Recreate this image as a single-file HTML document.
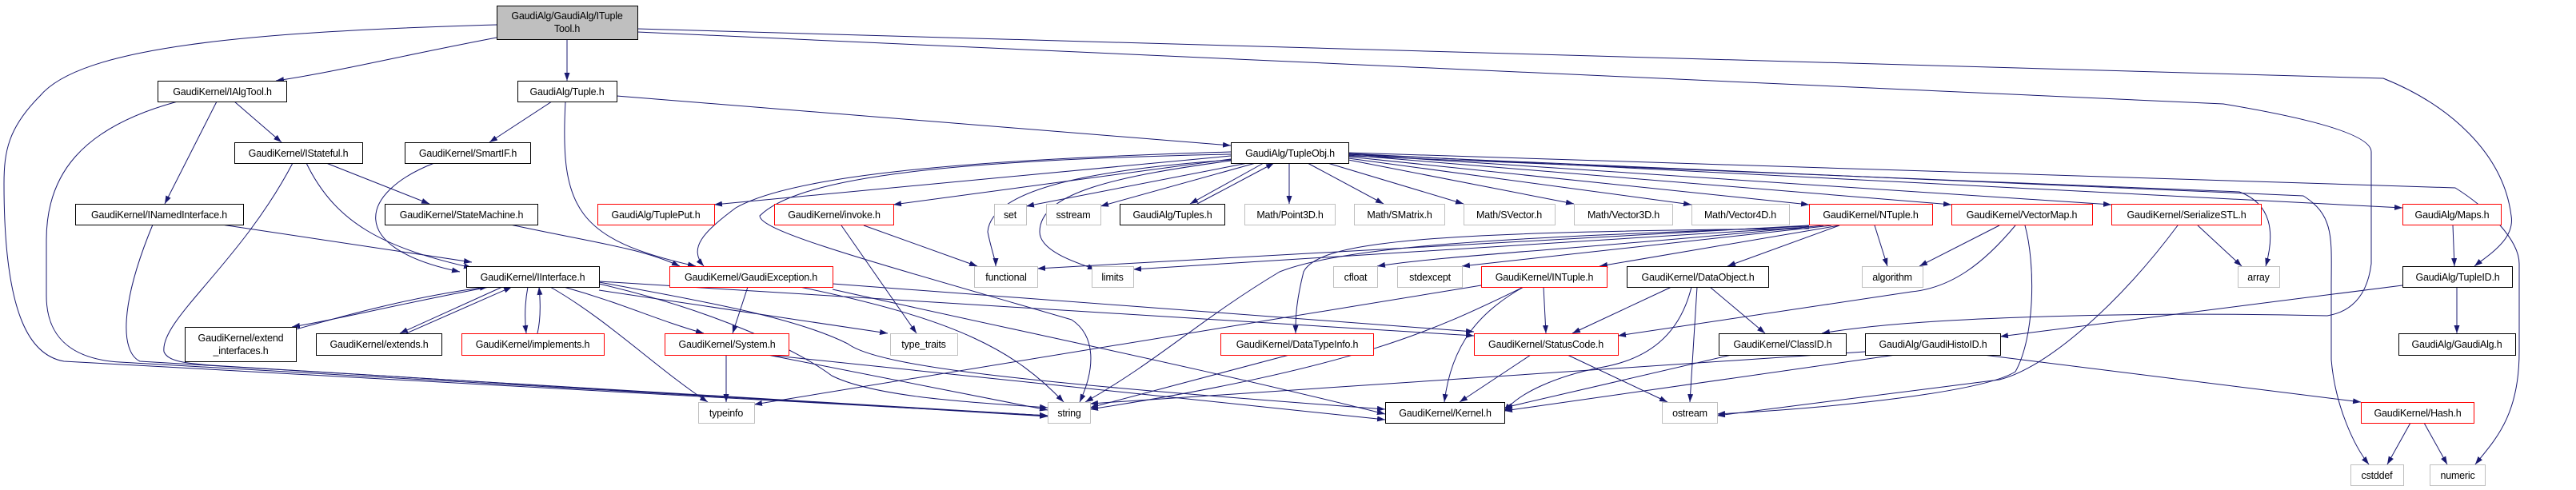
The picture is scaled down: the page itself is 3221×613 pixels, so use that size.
<!DOCTYPE html>
<html><head><meta charset="utf-8"><style>
html,body{margin:0;padding:0;background:#fff;}
svg{display:block;}
text{font-family:"Liberation Sans",sans-serif;font-size:12.5px;letter-spacing:-0.2px;fill:#000;text-anchor:middle;}
.e{fill:none;stroke:#191970;stroke-width:1;marker-end:url(#a);}
.k{fill:#fff;stroke:#000;stroke-width:1;}
.r{fill:#fff;stroke:#ff0000;stroke-width:1;}
.g{fill:#fff;stroke:#bfbfbf;stroke-width:1;}
</style></head><body>
<svg width="3221" height="613" viewBox="0 0 3221 613" xmlns="http://www.w3.org/2000/svg">
<defs><marker id="a" markerUnits="userSpaceOnUse" markerWidth="11" markerHeight="8" refX="10" refY="3.5" orient="auto"><path d="M0,0 L10,3.5 L0,7 z" fill="#191970"/></marker></defs>
<g>
<path class="e" d="M621,47 C500,70 420,90 345,101"/>
<path class="e" d="M709,49 L709,101"/>
<path class="e" d="M621,31 C300,40 100,60 50,120 C10,160 5,190 5,230 C5,400 40,445 80,452 L1310,520"/>
<path class="e" d="M797,36 L2980,98 C3060,130 3130,190 3140,270 C3145,300 3110,320 3094,333"/>
<path class="e" d="M797,40 L2780,130 C2900,150 2965,170 2965,190 L2965,330 C2960,370 2940,390 2910,395 C2700,390 2400,395 2278,417"/>
<path class="e" d="M690,127 L612,178"/>
<path class="e" d="M771,120 L1539,182"/>
<path class="e" d="M707,127 C700,260 720,300 870,333"/>
<path class="e" d="M293,127 L352,178"/>
<path class="e" d="M271,127 L206,255"/>
<path class="e" d="M222,127 C100,160 58,220 58,300 L58,370 C58,430 100,450 150,453 L1310,520"/>
<path class="e" d="M383,204 C420,280 480,310 590,335"/>
<path class="e" d="M408,204 L537,255"/>
<path class="e" d="M366,204 C300,330 200,400 205,440 C210,452 230,455 280,458 L1310,521"/>
<path class="e" d="M543,204 C450,240 430,310 575,340"/>
<path class="e" d="M277,281 L590,328"/>
<path class="e" d="M191,281 C150,380 150,440 175,452 L1310,520"/>
<path class="e" d="M638,281 C750,305 800,310 850,333"/>
<path class="e" d="M612,359 C500,380 420,400 365,409"/>
<path class="e" d="M370,412 C430,395 520,370 610,359"/>
<path class="e" d="M628,359 L500,417"/>
<path class="e" d="M508,417 L640,359"/>
<path class="e" d="M660,359 C656,380 656,400 658,417"/>
<path class="e" d="M672,417 C676,400 676,380 674,359"/>
<path class="e" d="M705,359 C780,380 820,400 880,417"/>
<path class="e" d="M688,359 C760,400 820,460 885,503"/>
<path class="e" d="M749,363 L1110,417"/>
<path class="e" d="M749,353 C900,380 1000,400 1060,430 C1100,460 1300,480 1732,512"/>
<path class="e" d="M749,352 L1843,420"/>
<path class="e" d="M749,355 C900,390 1000,440 1040,470 C1100,500 1250,505 1310,510"/>
<path class="e" d="M935,359 L916,417"/>
<path class="e" d="M1000,359 C1200,400 1270,440 1330,503"/>
<path class="e" d="M1041,355 L1843,415"/>
<path class="e" d="M1041,362 C1300,420 1500,460 1732,518"/>
<path class="e" d="M1080,282 L1222,333"/>
<path class="e" d="M1052,282 L1146,417"/>
<path class="e" d="M908,444 L908,503"/>
<path class="e" d="M960,444 L1310,513"/>
<path class="e" d="M960,444 L1732,525"/>
<path class="e" d="M1539,195 L893,256"/>
<path class="e" d="M1539,199 L1117,256"/>
<path class="e" d="M1560,204 L1283,258"/>
<path class="e" d="M1570,204 L1376,258"/>
<path class="e" d="M1580,204 L1488,255"/>
<path class="e" d="M1497,255 L1593,204"/>
<path class="e" d="M1612,204 L1612,255"/>
<path class="e" d="M1635,204 L1730,255"/>
<path class="e" d="M1660,204 L1830,255"/>
<path class="e" d="M1686,200 L1968,255"/>
<path class="e" d="M1686,198 L2115,256"/>
<path class="e" d="M1686,196 L2262,256"/>
<path class="e" d="M1686,194 L2440,256"/>
<path class="e" d="M1686,193 L2640,256"/>
<path class="e" d="M1686,192 L3004,260"/>
<path class="e" d="M1686,195 L2800,240 C2840,255 2845,290 2833,333"/>
<path class="e" d="M1686,193 L2880,245 C2920,270 2915,300 2915,360 L2915,450 C2920,510 2945,560 2962,581"/>
<path class="e" d="M1686,191 L3070,235 C3110,260 3150,300 3150,330 L3150,440 C3150,520 3120,550 3095,581"/>
<path class="e" d="M1539,200 C1400,210 1240,230 1235,290 C1240,315 1245,325 1245,333"/>
<path class="e" d="M1539,201 C1400,220 1300,240 1300,290 C1300,315 1350,330 1370,337"/>
<path class="e" d="M1539,193 C1200,200 1000,220 950,270 C950,290 1100,330 1340,400 C1370,420 1370,460 1350,503"/>
<path class="e" d="M1539,190 C1200,200 990,220 920,260 C880,290 860,310 880,333"/>
<path class="e" d="M2280,282 C2000,310 1800,320 1722,333"/>
<path class="e" d="M2290,282 L1828,333"/>
<path class="e" d="M2300,282 L2000,333"/>
<path class="e" d="M2300,282 L2160,333"/>
<path class="e" d="M2344,282 L2360,333"/>
<path class="e" d="M2262,282 L1297,336"/>
<path class="e" d="M2262,284 L1417,337"/>
<path class="e" d="M2262,286 C1800,290 1650,300 1630,340 C1620,380 1620,400 1620,417"/>
<path class="e" d="M2262,283 C2000,295 1700,300 1600,340 C1500,400 1450,450 1357,503"/>
<path class="e" d="M2500,282 L2400,333"/>
<path class="e" d="M2520,282 C2480,330 2440,360 2390,365 L2023,420"/>
<path class="e" d="M2532,282 C2545,330 2545,420 2520,465 C2480,490 2300,510 2147,518"/>
<path class="e" d="M2748,282 L2803,333"/>
<path class="e" d="M2723,282 C2650,380 2560,460 2500,475 L2147,520"/>
<path class="e" d="M3067,282 L3069,333"/>
<path class="e" d="M3072,359 L3072,417"/>
<path class="e" d="M3004,357 L2501,421"/>
<path class="e" d="M1930,359 L1933,417"/>
<path class="e" d="M1905,359 C1850,390 1815,430 1806,503"/>
<path class="e" d="M1905,359 C1800,410 1700,460 1363,512"/>
<path class="e" d="M1852,357 L943,506"/>
<path class="e" d="M2090,359 L1966,417"/>
<path class="e" d="M2138,359 L2207,417"/>
<path class="e" d="M2122,359 L2113,503"/>
<path class="e" d="M2115,359 C2100,420 2060,450 2000,460 C1950,470 1900,490 1881,515"/>
<path class="e" d="M1914,444 L1825,503"/>
<path class="e" d="M1960,444 L2085,503"/>
<path class="e" d="M1612,444 L1363,510"/>
<path class="e" d="M2165,444 L1881,510"/>
<path class="e" d="M2370,444 L1881,514"/>
<path class="e" d="M2332,440 L1363,505"/>
<path class="e" d="M2480,444 L2952,503"/>
<path class="e" d="M3014,529 L2985,581"/>
<path class="e" d="M3031,529 L3060,581"/>
</g>
<g>
<rect x="621.5" y="7.5" width="176" height="42" fill="#bfbfbf" stroke="#000"/>
<text x="709" y="24">GaudiAlg/GaudiAlg/ITuple</text><text x="709" y="40">Tool.h</text>

<rect class="k" x="197.5" y="101.5" width="161" height="26"/><text x="278" y="119">GaudiKernel/IAlgTool.h</text>
<rect class="k" x="647.5" y="101.5" width="124" height="26"/><text x="709" y="119">GaudiAlg/Tuple.h</text>

<rect class="k" x="293.5" y="178.5" width="160" height="26"/><text x="373" y="196">GaudiKernel/IStateful.h</text>
<rect class="k" x="506.5" y="178.5" width="157" height="26"/><text x="585" y="196">GaudiKernel/SmartIF.h</text>
<rect class="k" x="1539.5" y="178.5" width="147" height="26"/><text x="1613" y="196">GaudiAlg/TupleObj.h</text>

<rect class="k" x="94.5" y="255.5" width="210" height="26"/><text x="199" y="273">GaudiKernel/INamedInterface.h</text>
<rect class="k" x="481.5" y="255.5" width="191" height="26"/><text x="577" y="273">GaudiKernel/StateMachine.h</text>
<rect class="r" x="747.5" y="255.5" width="146" height="26"/><text x="820" y="273">GaudiAlg/TuplePut.h</text>
<rect class="r" x="968.5" y="255.5" width="149" height="26"/><text x="1043" y="273">GaudiKernel/invoke.h</text>
<rect class="g" x="1243.5" y="255.5" width="40" height="26"/><text x="1263" y="273">set</text>
<rect class="g" x="1308.5" y="255.5" width="68" height="26"/><text x="1342" y="273">sstream</text>
<rect class="k" x="1400.5" y="255.5" width="131" height="26"/><text x="1466" y="273">GaudiAlg/Tuples.h</text>
<rect class="g" x="1556.5" y="255.5" width="113" height="26"/><text x="1613" y="273">Math/Point3D.h</text>
<rect class="g" x="1693.5" y="255.5" width="113" height="26"/><text x="1750" y="273">Math/SMatrix.h</text>
<rect class="g" x="1830.5" y="255.5" width="114" height="26"/><text x="1887" y="273">Math/SVector.h</text>
<rect class="g" x="1968.5" y="255.5" width="123" height="26"/><text x="2030" y="273">Math/Vector3D.h</text>
<rect class="g" x="2115.5" y="255.5" width="122" height="26"/><text x="2176" y="273">Math/Vector4D.h</text>
<rect class="r" x="2262.5" y="255.5" width="154" height="26"/><text x="2339" y="273">GaudiKernel/NTuple.h</text>
<rect class="r" x="2440.5" y="255.5" width="176" height="26"/><text x="2528" y="273">GaudiKernel/VectorMap.h</text>
<rect class="r" x="2640.5" y="255.5" width="187" height="26"/><text x="2734" y="273">GaudiKernel/SerializeSTL.h</text>
<rect class="r" x="3004.5" y="255.5" width="123" height="26"/><text x="3066" y="273">GaudiAlg/Maps.h</text>

<rect class="k" x="583.5" y="333.5" width="166" height="26"/><text x="666" y="351">GaudiKernel/IInterface.h</text>
<rect class="r" x="837.5" y="333.5" width="204" height="26"/><text x="939" y="351">GaudiKernel/GaudiException.h</text>
<rect class="g" x="1218.5" y="333.5" width="79" height="26"/><text x="1258" y="351">functional</text>
<rect class="g" x="1365.5" y="333.5" width="52" height="26"/><text x="1391" y="351">limits</text>
<rect class="g" x="1667.5" y="333.5" width="55" height="26"/><text x="1695" y="351">cfloat</text>
<rect class="g" x="1747.5" y="333.5" width="81" height="26"/><text x="1788" y="351">stdexcept</text>
<rect class="r" x="1852.5" y="333.5" width="157" height="26"/><text x="1931" y="351">GaudiKernel/INTuple.h</text>
<rect class="k" x="2034.5" y="333.5" width="177" height="26"/><text x="2123" y="351">GaudiKernel/DataObject.h</text>
<rect class="g" x="2328.5" y="333.5" width="76" height="26"/><text x="2366" y="351">algorithm</text>
<rect class="g" x="2798.5" y="333.5" width="52" height="26"/><text x="2824" y="351">array</text>
<rect class="k" x="3004.5" y="333.5" width="137" height="26"/><text x="3073" y="351">GaudiAlg/TupleID.h</text>

<rect class="k" x="231.5" y="409.5" width="139" height="43"/><text x="301" y="427">GaudiKernel/extend</text><text x="301" y="443">_interfaces.h</text>
<rect class="k" x="395.5" y="417.5" width="157" height="27"/><text x="474" y="435">GaudiKernel/extends.h</text>
<rect class="r" x="577.5" y="417.5" width="178" height="27"/><text x="666" y="435">GaudiKernel/implements.h</text>
<rect class="r" x="831.5" y="417.5" width="155" height="27"/><text x="909" y="435">GaudiKernel/System.h</text>
<rect class="g" x="1113.5" y="417.5" width="84" height="27"/><text x="1155" y="435">type_traits</text>
<rect class="r" x="1526.5" y="417.5" width="191" height="27"/><text x="1622" y="435">GaudiKernel/DataTypeInfo.h</text>
<rect class="r" x="1843.5" y="417.5" width="180" height="27"/><text x="1933" y="435">GaudiKernel/StatusCode.h</text>
<rect class="k" x="2149.5" y="417.5" width="159" height="27"/><text x="2229" y="435">GaudiKernel/ClassID.h</text>
<rect class="k" x="2332.5" y="417.5" width="169" height="27"/><text x="2417" y="435">GaudiAlg/GaudiHistoID.h</text>
<rect class="k" x="2999.5" y="417.5" width="146" height="27"/><text x="3072" y="435">GaudiAlg/GaudiAlg.h</text>

<rect class="g" x="873.5" y="503.5" width="70" height="26"/><text x="908" y="521">typeinfo</text>
<rect class="g" x="1310.5" y="503.5" width="53" height="26"/><text x="1337" y="521">string</text>
<rect class="k" x="1732.5" y="503.5" width="149" height="26"/><text x="1807" y="521">GaudiKernel/Kernel.h</text>
<rect class="g" x="2078.5" y="503.5" width="69" height="26"/><text x="2113" y="521">ostream</text>
<rect class="r" x="2952.5" y="503.5" width="141" height="26"/><text x="3023" y="521">GaudiKernel/Hash.h</text>

<rect class="g" x="2939.5" y="581.5" width="66" height="26"/><text x="2972" y="599">cstddef</text>
<rect class="g" x="3038.5" y="581.5" width="69" height="26"/><text x="3073" y="599">numeric</text>
</g>
</svg>
</body></html>
